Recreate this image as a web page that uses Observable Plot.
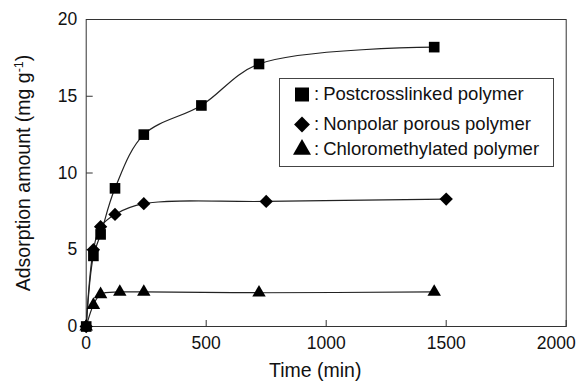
<!DOCTYPE html>
<html><head><meta charset="utf-8">
<script src="https://cdn.jsdelivr.net/npm/d3@7"></script>
<script src="https://cdn.jsdelivr.net/npm/@observablehq/plot@0.6"></script>
<style>
html,body{margin:0;padding:0;background:#fff;}
#wrap{position:relative;width:577px;height:386px;font-family:"Liberation Sans",Arial,sans-serif;}
#legend{position:absolute;left:279px;top:78px;width:275px;height:89px;border:1px solid #444;box-sizing:border-box;background:#fff;}
.row{position:absolute;left:13px;height:24px;display:flex;align-items:center;white-space:nowrap;font-size:18.5px;color:#111;}
.row svg{display:block;margin-right:2px;}
.colon{margin-right:4px;}
</style></head><body><div id="wrap"><div id="legend"></div></div>
<script>
// ---- data ----
const xTicks = [0, 500, 1000, 1500, 2000];
const yTicks = [0, 5, 10, 15, 20];
const xTitle = "Time (min)";
const yTitleMain = "Adsorption amount (mg g";
const yTitleSup = "-1";
const yTitleEnd = ")";

const seriesNames = ["Postcrosslinked polymer", "Nonpolar porous polymer", "Chloromethylated polymer"];

const timePost = [0, 30, 60, 120, 240, 480, 720, 1450];
const postcrosslinked = [0, 4.6, 6.0, 9.0, 12.5, 14.4, 17.1, 18.2];

const timeNonpolar = [0, 30, 60, 120, 240, 750, 1500];
const nonpolar = [0, 5.0, 6.5, 7.3, 8.0, 8.15, 8.3];

const timeChloro = [0, 30, 60, 140, 240, 720, 1450];
const chloro = [0, 1.4, 2.1, 2.25, 2.25, 2.2, 2.25];

// ---- build ----
const mk = (ts, vs, name) => ts.map((t, i) => ({time: t, value: vs[i], series: name}));
const dPost = mk(timePost, postcrosslinked, seriesNames[0]);
const dNon = mk(timeNonpolar, nonpolar, seriesNames[1]);
const dChl = mk(timeChloro, chloro, seriesNames[2]);

const tickUp = {draw(ctx) { ctx.moveTo(0, 0); ctx.lineTo(0, -6.5); }};
const tickRight = {draw(ctx) { ctx.moveTo(0, 0); ctx.lineTo(6.5, 0); }};

const ink = "#111";
const lineInk = "#222";
const font = "'Liberation Sans', Arial, sans-serif";
const lastX = xTicks[xTicks.length - 1];

const plot = Plot.plot({
  width: 577,
  height: 386,
  marginLeft: 85.7,
  marginRight: 11.3,
  marginTop: 19,
  marginBottom: 60,
  style: {fontFamily: font, background: "#fff", color: ink},
  x: {domain: [xTicks[0], lastX]},
  y: {domain: [yTicks[0], yTicks[yTicks.length - 1]]},
  marks: [
    Plot.frame({stroke: "#333", strokeWidth: 1}),
    Plot.axisX({ticks: xTicks.slice(0, -1), tickSize: 0, tickPadding: 10, fontSize: 17.5, label: null, tickFormat: d => String(d)}),
    Plot.axisX({ticks: [lastX], tickSize: 0, tickPadding: 10, dx: -10, fontSize: 17.5, label: null, tickFormat: d => String(d)}),
    Plot.axisY({ticks: yTicks, tickSize: 0, tickPadding: 9, fontSize: 17.5, label: null, tickFormat: d => String(d)}),
    Plot.dot(xTicks, {x: d => d, y: yTicks[0], symbol: tickUp, stroke: "#333", fill: "none", strokeWidth: 1}),
    Plot.dot(yTicks, {x: xTicks[0], y: d => d, symbol: tickRight, stroke: "#333", fill: "none", strokeWidth: 1}),
    Plot.line(dPost, {x: "time", y: "value", curve: "catmull-rom", stroke: lineInk, strokeWidth: 1.2}),
    Plot.line(dNon, {x: "time", y: "value", curve: "catmull-rom", stroke: lineInk, strokeWidth: 1.2}),
    Plot.line(dChl, {x: "time", y: "value", curve: "catmull-rom", stroke: lineInk, strokeWidth: 1.2}),
    Plot.dot(dPost, {x: "time", y: "value", symbol: "square", r: 6.0, fill: "#000", stroke: "none"}),
    Plot.dot(dNon, {x: "time", y: "value", symbol: "diamond2", r: 6.0, fill: "#000", stroke: "none"}),
    Plot.dot(dChl, {x: "time", y: "value", symbol: "triangle", r: 5.0, fill: "#000", stroke: "none"}),
    Plot.text([xTitle], {frameAnchor: "bottom", dy: 50.5, dx: -11, fontSize: 19.5, fill: ink}),
    Plot.text([yTitleMain + yTitleSup + yTitleEnd], {frameAnchor: "left", dx: -62.7, rotate: -90, fontSize: 19.5, fill: ink, textAnchor: "middle"})
  ]
});

// superscript in y title
plot.querySelectorAll("text").forEach(t => {
  if (t.textContent === yTitleMain + yTitleSup + yTitleEnd) {
    t.textContent = "";
    t.setAttribute("text-anchor", "middle");
    const ns = "http://www.w3.org/2000/svg";
    const a = document.createElementNS(ns, "tspan"); a.textContent = yTitleMain;
    const b = document.createElementNS(ns, "tspan"); b.textContent = yTitleSup;
    b.setAttribute("baseline-shift", "super"); b.setAttribute("font-size", "12.5");
    const c = document.createElementNS(ns, "tspan"); c.textContent = yTitleEnd;
    t.append(a, b, c);
  }
});

const wrap = document.getElementById("wrap");
wrap.insertBefore(plot, wrap.firstChild);

// legend
const legend = document.getElementById("legend");
const symbols = [
  {type: d3.symbolSquare, size: 196},
  {type: d3.symbolDiamond2, size: 160},
  {type: d3.symbolTriangle, size: 140}
];
const rowCenters = [14.5, 44.5, 69.5];
seriesNames.forEach((name, i) => {
  const row = document.createElement("div");
  row.className = "row";
  row.style.top = (rowCenters[i] - 12) + "px";
  const s = d3.create("svg").attr("width", 19).attr("height", 20);
  s.append("path").attr("transform", "translate(9,10.5)")
    .attr("d", d3.symbol(symbols[i].type, symbols[i].size)()).attr("fill", "#000");
  row.appendChild(s.node());
  const colon = document.createElement("span");
  colon.className = "colon";
  colon.textContent = ":";
  row.appendChild(colon);
  const span = document.createElement("span");
  span.textContent = name;
  row.appendChild(span);
  legend.appendChild(row);
});
</script>
</body></html>
